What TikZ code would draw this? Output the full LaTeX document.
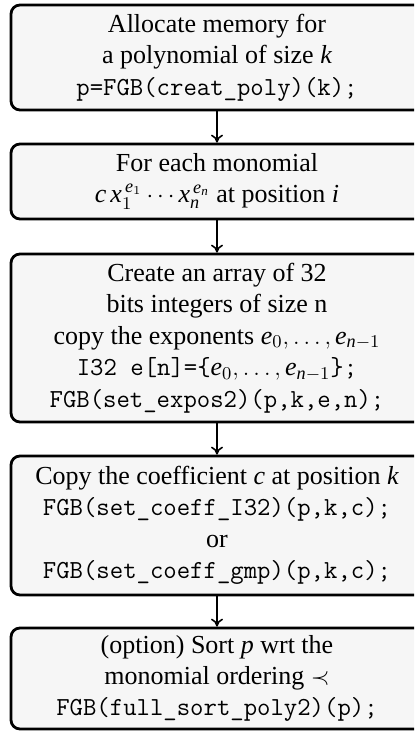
\documentclass[tikz,border=0pt]{standalone}
\usepackage{amsmath}
\usepackage{fontspec}
\setmainfont{Liberation Serif}
\usetikzlibrary{arrows.meta}
\newcommand\mi[1]{\text{\itshape #1}}
\begin{document}
\begin{tikzpicture}[x=1pt,y=1pt,
  stepbox/.style={draw=black, line width=1.4pt, rounded corners=4.5pt, fill=gray!7,
    minimum width=206pt, align=center, inner sep=0pt,
    font=\fontsize{13}{15.7}\selectfont},
  flow/.style={line width=0.8pt, -{To[length=4pt,width=6pt]}}]
\useasboundingbox (0,0) rectangle (207,-366.5);
\clip (0,0) rectangle (207,-366.5);
\node[stepbox, minimum height=52.5pt] (a) at (108.5,-28.75)
  {Allocate memory for\\ a polynomial of size $\mi{k}$\\ \texttt{p=FGB(creat\_poly)(k);}};
\node[stepbox, minimum height=37.5pt] (b) at (108.5,-90.75)
  {For each monomial\\ $\mi{c}\,\mi{x}_1^{\,\mi{e}_1}\cdots \mi{x}_{\mi{n}}^{\,\mi{e}_{\mi{n}}}$ at position $\mi{i}$};
\node[stepbox, minimum height=84pt] (c) at (108.5,-169)
  {Create an array of 32\\ bits integers of size n\\ copy the exponents $\mi{e}_0,\ldots,\mi{e}_{\mi{n}-1}$\\
   \texttt{I32 e[n]=\{}$\mi{e}_0,\ldots,\mi{e}_{\mi{n}-1}$\texttt{\};}\\ \texttt{FGB(set\_expos2)(p,k,e,n);}};
\node[stepbox, minimum height=69.5pt] (d) at (108.5,-262.75)
  {Copy the coefficient $\mi{c}$ at position $\mi{k}$\\ \texttt{FGB(set\_coeff\_I32)(p,k,c);}\\ or\\ \texttt{FGB(set\_coeff\_gmp)(p,k,c);}};
\node[stepbox, minimum height=50.5pt] (e) at (108.5,-339.25)
  {(option) Sort $\mi{p}$ wrt the\\ monomial ordering $\prec$\\ \texttt{FGB(full\_sort\_poly2)(p);}};
\draw[flow] (a) -- (b);
\draw[flow] (b) -- (c);
\draw[flow] (c) -- (d);
\draw[flow] (d) -- (e);
\end{tikzpicture}
\end{document}
